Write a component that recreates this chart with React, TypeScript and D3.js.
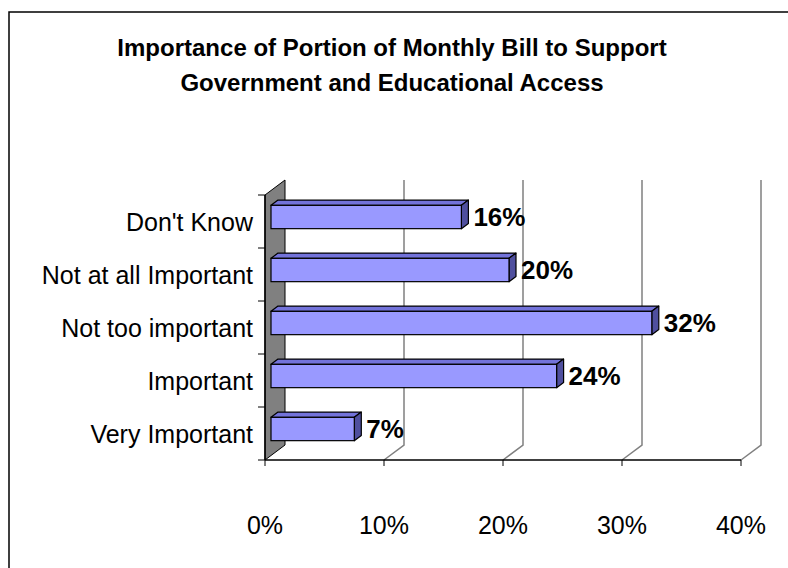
import React from "react";
import * as d3 from "d3";

const categories = ["Don't Know", "Not at all Important", "Not too important", "Important", "Very Important"];
const values = [16, 20, 32, 24, 7];
const tickValues = [0, 10, 20, 30, 40];
const titleLines = ["Importance of Portion of Monthly Bill to Support", "Government and Educational Access"];

const FONT = "Arial, 'Liberation Sans', Helvetica, sans-serif";

export default function App() {
  const W = 788, H = 568;
  const depth = { dx: 20, dy: -15 };
  const x = d3.scaleLinear().domain([0, 40]).range([265, 741]);
  const y = d3.scaleBand<string>().domain(categories).range([195, 460]).padding(0);
  const floorY = 460;
  const topY = 195;
  const t1 = 0.3, t2 = 0.65;
  const barH = y.bandwidth() * 0.44;

  const wall = [
    [x(0), topY],
    [x(0) + depth.dx, topY + depth.dy],
    [x(0) + depth.dx, floorY + depth.dy],
    [x(0), floorY],
  ];

  return (
    <svg width={W} height={H} style={{ position: "absolute", left: 0, top: 0 }} fontFamily={FONT}>
      <rect x={0} y={0} width={W} height={H} fill="#fff" />
      <rect x={9} y={12} width={W + 20} height={H + 20} fill="#fff" stroke="#000" strokeWidth={1.5} />
      {titleLines.map((t, i) => (
        <text key={i} x={392} y={56 + i * 35} textAnchor="middle" fontSize={24} fontWeight="bold" fill="#000">{t}</text>
      ))}
      {tickValues.map((v) => (
        <g key={v}>
          {v > 0 && (
            <polyline
              points={`${x(v)},${floorY} ${x(v) + depth.dx},${floorY + depth.dy} ${x(v) + depth.dx},${topY + depth.dy}`}
              fill="none" stroke="#808080" strokeWidth={1.5} />
          )}
        </g>
      ))}
      <polygon points={wall.map((p) => p.join(",")).join(" ")} fill="#808080" stroke="#000" strokeWidth={1} />
      <line x1={x(0)} x2={x(40)} y1={floorY} y2={floorY} stroke="#000" strokeWidth={1.5} />
      <line x1={x(0)} x2={x(0)} y1={topY} y2={floorY} stroke="#000" strokeWidth={1.5} />
      {tickValues.map((v) => (
        <line key={"t" + v} x1={x(v)} x2={x(v)} y1={floorY} y2={floorY + 6} stroke="#000" strokeWidth={1} />
      ))}
      {d3.range(categories.length + 1).map((i) => {
        const yy = topY + i * y.step();
        return <line key={"ct" + i} x1={x(0) - 7} x2={x(0)} y1={yy} y2={yy} stroke="#000" strokeWidth={1} />;
      })}
      {tickValues.map((v) => (
        <text key={"l" + v} x={x(v)} y={534} textAnchor="middle" fontSize={25} fill="#000">{v}%</text>
      ))}
      {categories.map((c) => (
        <text key={c} x={253} y={(y(c) as number) + y.bandwidth() / 2 + 9} textAnchor="end" fontSize={25} fill="#000">{c}</text>
      ))}
      {categories.map((c, i) => {
        const v = values[i];
        const cy = (y(c) as number) + y.bandwidth() / 2;
        const fx0 = x(0) + t1 * depth.dx, fx1 = x(v) + t1 * depth.dx;
        const fy0 = cy + t1 * depth.dy - barH / 2, fy1 = fy0 + barH;
        const ddx = (t2 - t1) * depth.dx, ddy = (t2 - t1) * depth.dy;
        return (
          <g key={"b" + c}>
            <polygon points={`${fx0},${fy0} ${fx0 + ddx},${fy0 + ddy} ${fx1 + ddx},${fy0 + ddy} ${fx1},${fy0}`} fill="#7373DA" stroke="#000" strokeWidth={1.2} strokeLinejoin="round" />
            <polygon points={`${fx1},${fy0} ${fx1 + ddx},${fy0 + ddy} ${fx1 + ddx},${fy1 + ddy} ${fx1},${fy1}`} fill="#4F4F9E" stroke="#000" strokeWidth={1.2} strokeLinejoin="round" />
            <rect x={fx0} y={fy0} width={fx1 - fx0} height={barH} fill="#9999FF" stroke="#000" strokeWidth={1.2} />
            <text x={fx1 + ddx + 5} y={cy + t1 * depth.dy + 9} fontSize={26} fontWeight="bold" fill="#000">{v}%</text>
          </g>
        );
      })}
    </svg>
  );
}
